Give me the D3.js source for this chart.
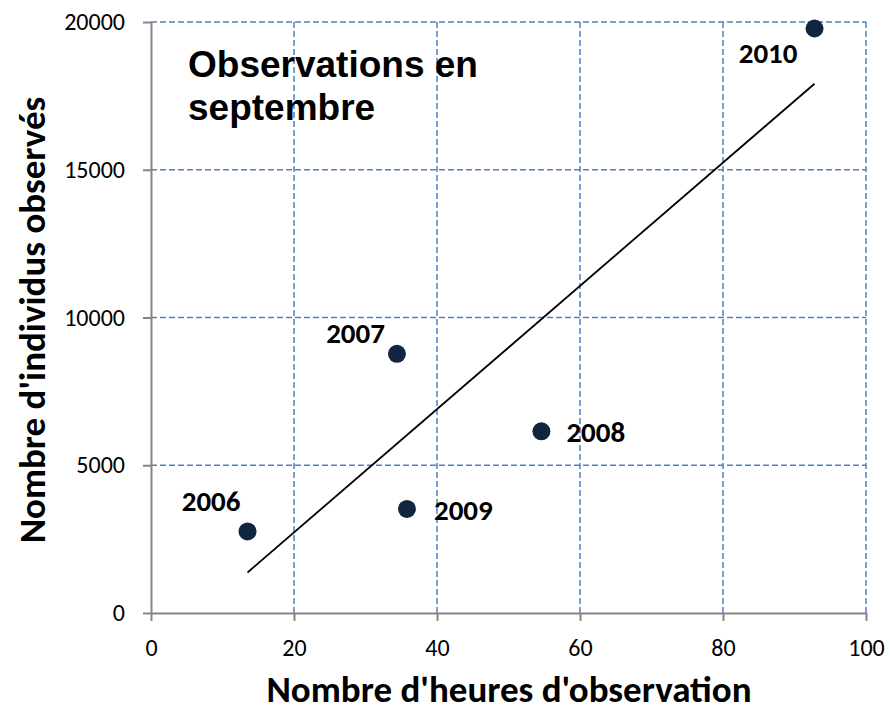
<!DOCTYPE html>
<html>
<head>
<meta charset="utf-8">
<script src="https://cdn.jsdelivr.net/npm/d3@7"></script>
<style>
  body { margin: 0; background: #fff; }
  text { font-family: Carlito, Calibri, Lato, sans-serif; }
</style>
</head>
<body>
<div id="chart"></div>
<script>
// observations in September, one point per year
var years = ["2006", "2007", "2008", "2009", "2010"];
var hours = [13.5, 34.4, 54.6, 35.8, 92.8];
var counts = [2760, 8770, 6150, 3520, 19780];
var xTicks = [0, 20, 40, 60, 80, 100];
var yTicks = [0, 5000, 10000, 15000, 20000];

var data = years.map(function (y, i) {
    return {year: y, x: hours[i], y: counts[i]};
});

var width = 890, height = 711;

var xScale = d3.scaleLinear().domain([0, 100]).range([151, 866]);
var yScale = d3.scaleLinear().domain([0, 20000]).range([613, 22]);

var svg = d3.select("#chart").append("svg")
    .attr("width", width)
    .attr("height", height);

// dashed grid
svg.append("g")
    .selectAll("line.h")
    .data(yTicks.filter(function (d) { return d > 0; }))
  .enter().append("line")
    .attr("x1", xScale(0)).attr("x2", xScale(100))
    .attr("y1", function (d) { return yScale(d); })
    .attr("y2", function (d) { return yScale(d); })
    .attr("stroke", "#4f81bd")
    .attr("stroke-width", 1.5)
    .attr("stroke-dasharray", "6,3");

svg.append("g")
    .selectAll("line.v")
    .data(xTicks.filter(function (d) { return d > 0; }))
  .enter().append("line")
    .attr("y1", yScale(0)).attr("y2", yScale(20000))
    .attr("x1", function (d) { return xScale(d); })
    .attr("x2", function (d) { return xScale(d); })
    .attr("stroke", "#4f81bd")
    .attr("stroke-width", 1.5)
    .attr("stroke-dasharray", "6,3");

// axes
var xAxis = svg.append("g")
    .attr("transform", "translate(0," + yScale(0) + ")")
    .call(d3.axisBottom(xScale).tickValues(xTicks).tickSize(8).tickSizeOuter(0).tickPadding(18));

var yAxis = svg.append("g")
    .attr("transform", "translate(" + xScale(0) + ",0)")
    .call(d3.axisLeft(yScale).tickValues(yTicks).tickFormat(d3.format("d"))
        .tickSize(8).tickSizeOuter(0).tickPadding(18));

[xAxis, yAxis].forEach(function (a) {
    a.select(".domain").attr("stroke", "#868686").attr("stroke-width", 2);
    a.selectAll(".tick line").attr("stroke", "#868686").attr("stroke-width", 2);
    a.selectAll(".tick text")
        .attr("fill", "#000")
        .style("font-family", "Carlito, Calibri, Lato, sans-serif")
        .style("font-size", "24px");
});

// linear trend line (least squares), drawn over the data range
var mx = d3.mean(hours), my = d3.mean(counts);
var sxy = d3.sum(data, function (d) { return (d.x - mx) * (d.y - my); });
var sxx = d3.sum(data, function (d) { return (d.x - mx) * (d.x - mx); });
var slope = sxy / sxx, intercept = my - slope * mx;
var xExt = d3.extent(hours);

var line = d3.line()
    .x(function (d) { return xScale(d); })
    .y(function (d) { return yScale(intercept + slope * d); });

svg.append("path")
    .datum(xExt)
    .attr("d", line)
    .attr("fill", "none")
    .attr("stroke", "#000")
    .attr("stroke-width", 1.8);

// points
svg.append("g")
    .selectAll("circle")
    .data(data)
  .enter().append("circle")
    .attr("cx", function (d) { return xScale(d.x); })
    .attr("cy", function (d) { return yScale(d.y); })
    .attr("r", 9)
    .attr("fill", "#10253f");

// year labels
var place = {
    "2006": {dx: -7, dy: -20, anchor: "end"},
    "2007": {dx: -12, dy: -11, anchor: "end"},
    "2008": {dx: 25, dy: 11, anchor: "start"},
    "2009": {dx: 27, dy: 11, anchor: "start"},
    "2010": {dx: -17, dy: 34, anchor: "end"}
};

svg.append("g")
    .selectAll("text")
    .data(data)
  .enter().append("text")
    .attr("x", function (d) { return xScale(d.x) + place[d.year].dx; })
    .attr("y", function (d) { return yScale(d.y) + place[d.year].dy; })
    .attr("text-anchor", function (d) { return place[d.year].anchor; })
    .style("font-size", "29px")
    .style("font-weight", "bold")
    .text(function (d) { return d.year; });

// title inside the plot
var title = svg.append("text")
    .attr("x", 188)
    .style("font-family", "'Liberation Sans', Arial, sans-serif")
    .style("font-size", "37px")
    .style("font-weight", "bold");
title.append("tspan").attr("x", 188).attr("y", 77).text("Observations en");
title.append("tspan").attr("x", 188).attr("y", 120).text("septembre");

// axis titles
svg.append("text")
    .attr("x", 509)
    .attr("y", 702)
    .attr("text-anchor", "middle")
    .style("font-size", "37px")
    .style("font-weight", "bold")
    .text("Nombre d'heures d'observation");

svg.append("text")
    .attr("transform", "translate(45," + 320 + ") rotate(-90)")
    .attr("text-anchor", "middle")
    .style("font-size", "37px")
    .style("font-weight", "bold")
    .text("Nombre d'individus observés");
</script>
</body>
</html>
